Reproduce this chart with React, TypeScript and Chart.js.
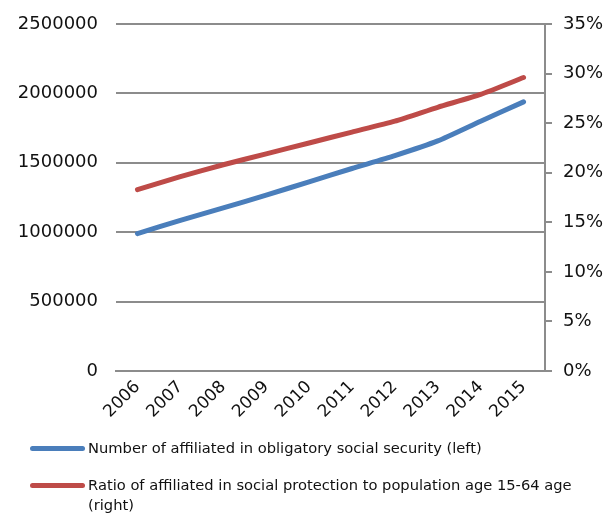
import React, { useEffect, useRef } from "react";
import { Chart, registerables } from "chart.js";

Chart.register(...registerables);

const years = ["2006", "2007", "2008", "2009", "2010", "2011", "2012", "2013", "2014", "2015"];
const affiliated = [990000, 1085000, 1175000, 1267000, 1363000, 1459000, 1552000, 1658000, 1800000, 1939000];
const ratioPct = [18.3, 19.6, 20.8, 21.9, 23.0, 24.1, 25.2, 26.6, 27.9, 29.6];

const affiliatedLabel = "Number of affiliated in obligatory social security (left)";
const ratioLabel = "Ratio of affiliated in social protection to population age 15-64 age (right)";

const BLUE = "#4A7EBB";
const RED = "#BE4B48";
const GRID = "#8C8C8C";
const FONT = "'DejaVu Sans', sans-serif";

export default function App() {
  const canvasRef = useRef<HTMLCanvasElement | null>(null);

  useEffect(() => {
    const canvas = canvasRef.current;
    if (!canvas) return;
    const chart = new Chart(canvas, {
      type: "line",
      data: {
        labels: years,
        datasets: [
          {
            label: affiliatedLabel,
            data: affiliated,
            borderColor: BLUE,
            backgroundColor: BLUE,
            borderWidth: 5,
            borderCapStyle: "round",
            pointRadius: 0,
            tension: 0.2,
            yAxisID: "yLeft",
          },
          {
            label: ratioLabel,
            data: ratioPct,
            borderColor: RED,
            backgroundColor: RED,
            borderWidth: 5,
            borderCapStyle: "round",
            pointRadius: 0,
            tension: 0.2,
            yAxisID: "yRight",
          },
        ],
      },
      options: {
        responsive: false,
        animation: false,
        layout: { padding: { top: 24, left: 0, right: 0, bottom: 0 } },
        plugins: {
          legend: { display: false },
          tooltip: { enabled: false },
        },
        scales: {
          x: {
            offset: true,
            grid: { display: false, drawTicks: false },
            border: { display: true, color: GRID, width: 2 },
            ticks: {
              minRotation: 45,
              maxRotation: 45,
              padding: 6,
              color: "#111",
              font: { family: FONT, size: 17 },
            },
            afterFit: (scale: any) => {
              scale.height = 142;
            },
          },
          yLeft: {
            position: "left",
            min: 0,
            max: 2500000,
            grid: { color: GRID, lineWidth: 2, drawTicks: false },
            border: { display: false },
            ticks: {
              stepSize: 500000,
              padding: 18,
              color: "#111",
              font: { family: FONT, size: 18 },
              callback: (v: any) => String(v),
            },
            afterFit: (scale: any) => {
              scale.width = 116;
              scale.paddingTop = 11;
              scale.paddingBottom = 11;
            },
          },
          yRight: {
            position: "right",
            min: 0,
            max: 35,
            grid: { drawOnChartArea: false, drawTicks: true, tickLength: 7, color: GRID, lineWidth: 2 },
            border: { display: true, color: GRID, width: 2 },
            ticks: {
              stepSize: 5,
              padding: 11,
              color: "#111",
              font: { family: FONT, size: 18 },
              callback: (v: any) => `${v}%`,
            },
            afterFit: (scale: any) => {
              scale.width = 61;
              scale.paddingTop = 11;
              scale.paddingBottom = 11;
            },
          },
        },
      },
    });
    return () => chart.destroy();
  }, []);

  const marker = (color: string, top: number): React.CSSProperties => ({
    position: "absolute",
    left: 30,
    top,
    width: 55,
    height: 5,
    borderRadius: 3,
    background: color,
  });

  const text = (top: number): React.CSSProperties => ({
    position: "absolute",
    left: 88,
    top,
    width: 515,
    fontFamily: FONT,
    fontSize: 14.7,
    lineHeight: "20px",
    color: "#111",
  });

  return (
    <div style={{ position: "fixed", left: 0, top: 0, width: 606, height: 513, background: "#fff" }}>
      <canvas ref={canvasRef} width={606} height={513} style={{ position: "absolute", left: 0, top: 0 }} />
      <div style={marker(BLUE, 446)} />
      <div style={text(438)}>{affiliatedLabel}</div>
      <div style={marker(RED, 483)} />
      <div style={text(475)}>{ratioLabel}</div>
    </div>
  );
}
